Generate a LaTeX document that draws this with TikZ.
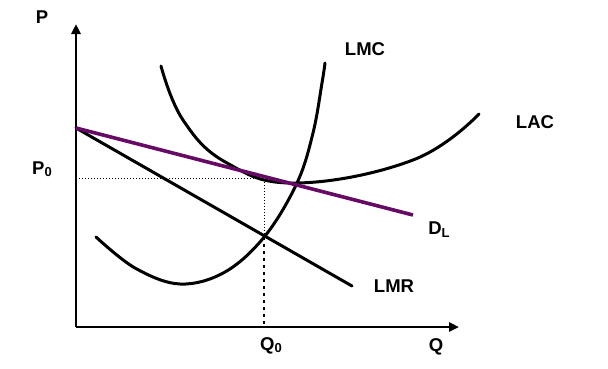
\documentclass[tikz,border=0pt]{standalone}
\usepackage{fontspec}
\setmainfont{Liberation Sans}
\usetikzlibrary{arrows.meta}
\definecolor{dpurple}{RGB}{102,10,102}
\tikzset{
  lbl/.style={font=\bfseries\fontsize{18.5}{18.5}\selectfont, inner sep=0pt},
  curve/.style={line width=3pt, black, line cap=round},
  axis/.style={line width=2.6pt, -{Triangle[length=10pt,width=9pt]}},
  guide/.style={line width=1pt, dotted},
}
\begin{document}
\begin{tikzpicture}[x=1pt,y=-1pt]
\useasboundingbox (0,0) rectangle (608,368);
\coordinate (O) at (76,327);
\coordinate (Ytip) at (76,24);
\coordinate (Xtip) at (459,327);
\coordinate (A) at (76,128);
\coordinate (Dend) at (413,215);
\coordinate (Rend) at (352,286);
\coordinate (Ph) at (76,178);
\coordinate (E) at (264,178);
\coordinate (M) at (264,237);
\coordinate (Qb) at (264,327);
% axes
\draw[axis] (O) -- (Ytip);
\draw[axis] (O) -- (Xtip);
% guides
\draw[guide] (Ph) -- (E) -- (M);
\draw[line width=1.4pt, dash pattern=on 3pt off 4pt] (M) -- (Qb);
% LAC
\draw[curve] plot[smooth, tension=0.7] coordinates {(161,66) (183,120) (227,163) (297,183) (413,160) (479,114)};
% LMC
\draw[curve] plot[smooth, tension=0.6] coordinates {(96,237) (135,268) (180,284) (225,272) (265,236) (297,183) (313,133) (322,83) (325,63)};
% LMR
\draw[curve] (A) -- (Rend);
% D_L
\draw[line width=3.6pt, dpurple] (A) -- (Dend);
% labels
\node[lbl] (P) at (42,17) {P};
\node[lbl] (P0) at (42,169) {P\raisebox{-2pt}{\fontsize{13}{13}\selectfont 0}};
\node[lbl] (Q0) at (271,346) {Q\raisebox{-2pt}{\fontsize{13}{13}\selectfont 0}};
\node[lbl] (Q) at (436,347) {Q};
\node[lbl] (LMC) at (365,49) {LMC};
\node[lbl] (LAC) at (535,122) {LAC};
\node[lbl] (DL) at (439,230) {D\raisebox{-3pt}{\fontsize{13}{13}\selectfont L}};
\node[lbl] (LMR) at (394,286) {LMR};
\end{tikzpicture}
\end{document}
